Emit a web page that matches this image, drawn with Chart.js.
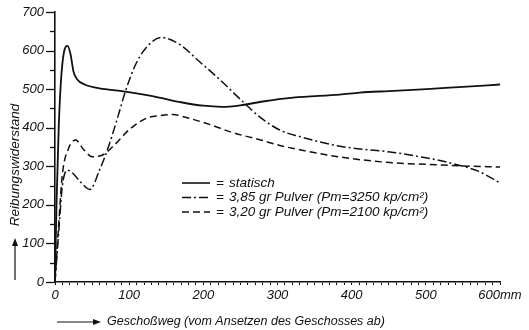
<!DOCTYPE html>
<html>
<head>
<meta charset="utf-8">
<script src="https://cdn.jsdelivr.net/npm/chart.js@4"></script>
<style>
  html, body { margin: 0; padding: 0; background: #fff; }
  #wrap { width: 529px; height: 330px; }
</style>
</head>
<body>
<div id="wrap"><canvas id="chart" width="529" height="330"></canvas></div>
<script>
// Werte (Geschoßweg in mm, Reibungswiderstand)
const statischX = [0, 2, 5, 8, 12, 17, 21, 25, 30, 40, 60, 90, 120, 141, 170, 200, 225, 250, 280, 321, 384, 411, 450, 501, 550, 600];
const statischY = [0, 200, 400, 520, 595, 612, 590, 545, 525, 512, 502, 495, 486, 478, 466, 457, 454, 458, 468, 478, 486, 491, 495, 500, 506, 512];

const pulver385X = [0, 5, 10, 17, 25, 35, 47, 60, 72, 85, 95, 110, 125, 143, 168, 195, 222, 253, 276, 303, 330, 384, 456, 500, 528, 546, 570, 600];
const pulver385Y = [0, 130, 250, 290, 280, 258, 240, 290, 350, 430, 495, 569, 612, 634, 616, 571, 525, 468, 428, 394, 377, 352, 336, 322, 311, 302, 288, 257];

const pulver320X = [0, 5, 10, 18, 28, 38, 50, 65, 80, 100, 125, 141, 159, 178, 209, 240, 276, 303, 330, 384, 456, 500, 550, 600];
const pulver320Y = [0, 150, 280, 345, 368, 345, 325, 330, 355, 395, 426, 431, 434, 426, 408, 387, 369, 354, 343, 324, 309, 305, 301, 298];

const legendLabels = ['statisch', '3,85 gr Pulver (Pm=3250 kp/cm²)', '3,20 gr Pulver (Pm=2100 kp/cm²)'];
const yTitle = 'Reibungswiderstand';
const xTitle = 'Geschoßweg (vom Ansetzen des Geschosses ab)';

const FONT = 'Liberation Sans';
const dashDot = [9, 3, 2, 3];
const dashed = [7, 4];

function pts(xs, ys) {
    return xs.map((x, i) => ({ x: x, y: ys[i] }));
}

function arrow(ctx, x1, y1, x2, y2) {
    const ang = Math.atan2(y2 - y1, x2 - x1);
    ctx.beginPath();
    ctx.moveTo(x1, y1);
    ctx.lineTo(x2 - 6 * Math.cos(ang), y2 - 6 * Math.sin(ang));
    ctx.stroke();
    ctx.beginPath();
    ctx.moveTo(x2, y2);
    ctx.lineTo(x2 - 8 * Math.cos(ang) + 3 * Math.sin(ang), y2 - 8 * Math.sin(ang) - 3 * Math.cos(ang));
    ctx.lineTo(x2 - 8 * Math.cos(ang) - 3 * Math.sin(ang), y2 - 8 * Math.sin(ang) + 3 * Math.cos(ang));
    ctx.closePath();
    ctx.fill();
}

// Legende im Diagramm, y-Ticks (lang/kurz) und Achsentitel mit Pfeilen
const extras = {
    id: 'extras',
    afterDraw(chart) {
        const ctx = chart.ctx;
        const a = chart.chartArea;
        const ys = chart.scales.y;
        ctx.save();
        ctx.strokeStyle = '#111';
        ctx.fillStyle = '#111';

        // y-Ticks: alle 100 lang, dazwischen kurz
        ctx.lineWidth = 1.3;
        ys.ticks.forEach(t => {
            const py = Math.round(ys.getPixelForValue(t.value)) + 0.5;
            const len = t.value % 100 === 0 ? 9 : 5;
            ctx.beginPath();
            ctx.moveTo(a.left - len, py);
            ctx.lineTo(a.left, py);
            ctx.stroke();
        });

        // Legende
        ctx.font = 'italic 13.5px "' + FONT + '"';
        ctx.textBaseline = 'middle';
        const dashes = [[], dashDot, dashed];
        const lx = a.left + 127;
        const ly = a.top + 171;
        for (let i = 0; i < 3; i++) {
            const y = ly + i * 14.5;
            ctx.lineWidth = 1.6;
            ctx.setLineDash(dashes[i]);
            ctx.beginPath();
            ctx.moveTo(lx, y);
            ctx.lineTo(lx + 28, y);
            ctx.stroke();
            ctx.setLineDash([]);
            ctx.fillText('=', lx + 34, y);
            ctx.fillText(legendLabels[i], lx + 47, y);
        }

        // x-Achsentitel
        ctx.lineWidth = 1.2;
        ctx.font = 'italic 12.5px "' + FONT + '"';
        const ty = a.bottom + 40;
        arrow(ctx, a.left + 2, ty, a.left + 46, ty);
        ctx.textAlign = 'left';
        ctx.fillText(xTitle, a.left + 52, ty);

        // y-Achsentitel
        const tx = 15;
        arrow(ctx, tx, a.bottom - 2, tx, a.bottom - 44);
        ctx.translate(tx, a.bottom - 117);
        ctx.rotate(-Math.PI / 2);
        ctx.textAlign = 'center';
        ctx.font = 'italic 13.5px "' + FONT + '"';
        ctx.fillText(yTitle, 0, 0);
        ctx.restore();
    }
};

new Chart(document.getElementById('chart'), {
    type: 'scatter',
    data: {
        datasets: [
            {
                label: 'statisch',
                data: pts(statischX, statischY),
                borderColor: '#111',
                borderWidth: 1.8,
                showLine: true,
                pointRadius: 0,
                cubicInterpolationMode: 'monotone'
            },
            {
                label: '3,85 gr Pulver',
                data: pts(pulver385X, pulver385Y),
                borderColor: '#111',
                borderWidth: 1.5,
                borderDash: dashDot,
                showLine: true,
                pointRadius: 0,
                cubicInterpolationMode: 'monotone'
            },
            {
                label: '3,20 gr Pulver',
                data: pts(pulver320X, pulver320Y),
                borderColor: '#111',
                borderWidth: 1.5,
                borderDash: dashed,
                showLine: true,
                pointRadius: 0,
                cubicInterpolationMode: 'monotone'
            }
        ]
    },
    options: {
        responsive: false,
        animation: false,
        layout: { padding: { left: 0, right: 29, top: 12, bottom: 0 } },
        plugins: {
            legend: { display: false },
            tooltip: { enabled: false }
        },
        scales: {
            x: {
                type: 'linear',
                min: 0,
                max: 600,
                afterFit: function(scale) { scale.height = 48; },
                border: { color: '#111', width: 1.6 },
                grid: { drawOnChartArea: false, color: '#111', tickLength: 3 },
                ticks: {
                    stepSize: 10,
                    autoSkip: false,
                    maxRotation: 0,
                    color: '#111',
                    padding: 3,
                    font: { family: FONT, size: 13, style: 'italic' },
                    callback: function(v) {
                        if (v % 100 !== 0) return '';
                        return v === 600 ? '600mm' : String(v);
                    }
                }
            },
            y: {
                min: 0,
                max: 700,
                afterFit: function(scale) {
                    scale.width = 55;
                    scale.paddingTop = 0;
                    scale.paddingBottom = 0;
                },
                border: { color: '#111', width: 1.6 },
                grid: { drawOnChartArea: false, drawTicks: false },
                ticks: {
                    stepSize: 50,
                    autoSkip: false,
                    color: '#111',
                    padding: 11,
                    font: { family: FONT, size: 13, style: 'italic' },
                    callback: function(v) { return v % 100 === 0 ? String(v) : ''; }
                }
            }
        }
    },
    plugins: [extras]
});
</script>
</body>
</html>
